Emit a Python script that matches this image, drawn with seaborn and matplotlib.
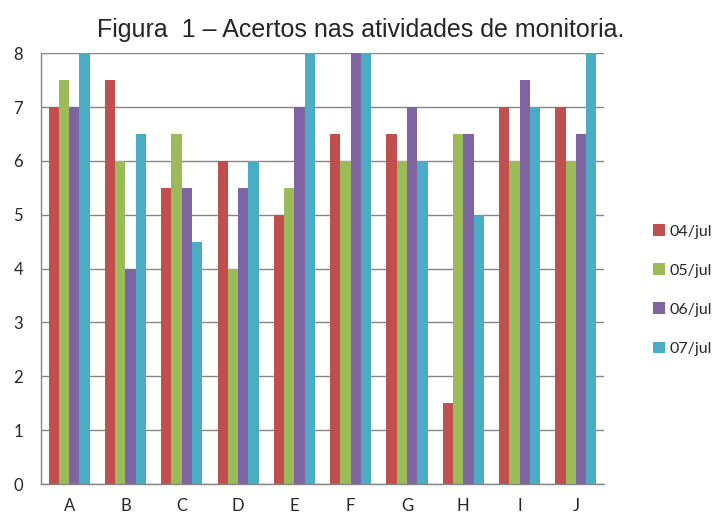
import matplotlib
matplotlib.use("Agg")
import matplotlib.pyplot as plt
import seaborn as sns
import pandas as pd
import numpy as np

categories = ["A", "B", "C", "D", "E", "F", "G", "H", "I", "J"]
series_names = ["04/jul", "05/jul", "06/jul", "07/jul"]
jul04 = [7, 7.5, 5.5, 6, 5, 6.5, 6.5, 1.5, 7, 7]
jul05 = [7.5, 6, 6.5, 4, 5.5, 6, 6, 6.5, 6, 6]
jul06 = [7, 4, 5.5, 5.5, 7, 8, 7, 6.5, 7.5, 6.5]
jul07 = [8, 6.5, 4.5, 6, 8, 8, 6, 5, 7, 8]
colors = ["#C0504D", "#9BBB59", "#8064A2", "#4BACC6"]
title = "Figura  1 – Acertos nas atividades de monitoria."

rows = []
for name, vals in zip(series_names, [jul04, jul05, jul06, jul07]):
    for c, v in zip(categories, vals):
        rows.append({"cat": c, "serie": name, "val": v})
df = pd.DataFrame(rows)

sns.set_theme(style="white")
plt.rcParams["font.family"] = ["Lato", "DejaVu Sans"]

fig = plt.figure(figsize=(7.22, 5.16), dpi=100)
ax = fig.add_axes([0.0568, 0.062, 0.7798, 0.835])

sns.barplot(data=df, x="cat", y="val", hue="serie", palette=colors,
            width=0.73, gap=0, ax=ax, saturation=1, errorbar=None, legend=True)
for p in ax.patches:
    p.set_edgecolor("none")

ax.set_ylim(0, 8)
ax.set_xlim(-0.5, 9.5)
ax.set_yticks(range(0, 9))
ax.set_xlabel("")
ax.set_ylabel("")
ax.yaxis.grid(True, color="#868686", linewidth=1)
ax.set_axisbelow(True)
for s in ["top", "right"]:
    ax.spines[s].set_visible(False)
for s in ["left", "bottom"]:
    ax.spines[s].set_color("#868686")
    ax.spines[s].set_linewidth(1)

ax.tick_params(axis="y", length=6, color="#868686", width=1, labelsize=12, pad=7)
ax.tick_params(axis="x", which="major", length=0, labelsize=12, pad=10)
ax.set_xticks(np.arange(-0.5, 10, 1), minor=True)
ax.tick_params(axis="x", which="minor", length=6, color="#868686", width=1)

leg = ax.legend(loc="center left", bbox_to_anchor=(1.073, 0.45), frameon=False,
                fontsize=11.5, handlelength=0.75, handleheight=0.75,
                handletextpad=0.3, labelspacing=1.55, borderpad=0)

fig.text(0.5, 0.941, title, ha="center", va="center", fontsize=18,
         family=["Liberation Sans", "DejaVu Sans"])

fig.savefig("out.png", dpi=100)
